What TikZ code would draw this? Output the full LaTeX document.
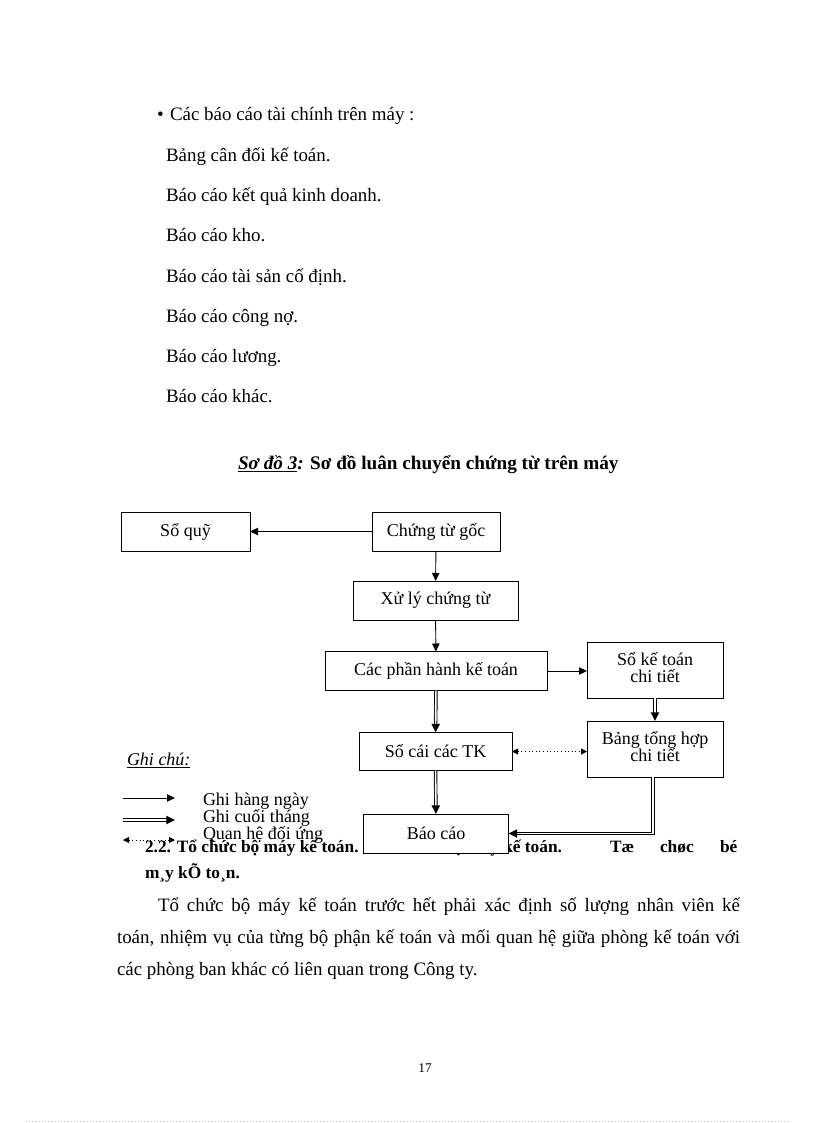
\documentclass[tikz,border=0pt]{standalone}
\usepackage{fontspec}
\setmainfont{Liberation Serif}
\usetikzlibrary{arrows.meta, decorations.markings}
\newcommand{\px}{0.75pt}
\tikzset{
every node/.style={inner sep=0pt, outer sep=0pt},
body/.style={anchor=base west, font=\fontsize{14.2}{16}\selectfont},
head/.style={anchor=base west, font=\fontsize{13}{15}\selectfont\bfseries},
legend/.style={anchor=base west, font=\fontsize{13.5}{15}\selectfont},
box/.style={draw, fill=white, line width=0.75pt, align=center,
  minimum height=39*\px, font=\fontsize{13.5}{12.75}\selectfont},
daily/.style={-{Triangle[length=6pt,width=5.5pt]}, line width=0.7pt},
monthly/.style={double, double distance=1.2pt, line width=0.7pt, shorten >=5pt,
  postaction={decorate, decoration={markings,
    mark=at position 1 with {\arrow{Triangle[length=6.5pt,width=6pt]}}}}},
mutual/.style={{Triangle[length=4.5pt,width=4.5pt]}-{Triangle[length=4.5pt,width=4.5pt]}, dotted, line width=0.7pt}
}

\begin{document}
\begin{tikzpicture}[x=\px, y=-\px]
\useasboundingbox (0,0) rectangle (816,1123);
% list of reports
\node[body] (bullet) at (157,121) {•};
\node[body] (title) at (170,121) {Các báo cáo tài chính trên máy :};
\node[body] (item1) at (166,162) {Bảng cân đối kế toán.};
\node[body] (item2) at (166,202) {Báo cáo kết quả kinh doanh.};
\node[body] (item3) at (166,242) {Báo cáo kho.};
\node[body] (item4) at (166,282) {Báo cáo tài sản cố định.};
\node[body] (item5) at (166,322) {Báo cáo công nợ.};
\node[body] (item6) at (166,362) {Báo cáo lương.};
\node[body] (item7) at (166,402) {Báo cáo khác.};
\node[body, font=\fontsize{14.4}{16}\selectfont\bfseries] (caption) at (238,469)
  {\underline{\textit{Sơ đồ 3}}\textit{:} Sơ đồ luân chuyển chứng từ trên máy};

% heading under the chart
\node[head] (h1) at (145,852) {2.2. Tổ chức bộ máy kế toán.};
\node[head, anchor=base east] (h2) at (562,852) {Tổ chức bộ máy kế toán.};
\node[head] (h3) at (610,852) {Tæ};
\node[head] (h4) at (660,852) {chøc};
\node[head] (h5) at (720,852) {bé};
\node[head] (h6) at (145,878) {m¸y kÕ to¸n.};

% paragraph
\node[body] (para1) at (117,911) {\makebox[467.25pt][s]{\hspace*{30.75pt}Tổ chức bộ máy kế toán trước hết phải xác định số lượng nhân viên kế}};
\node[body] (para2) at (117,943) {\makebox[467.25pt][s]{toán, nhiệm vụ của từng bộ phận kế toán và mối quan hệ giữa phòng kế toán với}};
\node[body] (para3) at (117,975) {các phòng ban khác có liên quan trong Công ty.};
\node[anchor=base, font=\fontsize{10}{12}\selectfont] (pageno) at (425,1072) {17};
\draw[gray!50, dotted] (26,1121) -- (790,1121);

% legend
\node[legend] (ghichu) at (127,765) {\underline{\textit{Ghi chú:}}};
\coordinate (l1a) at (123,798);
\coordinate (l1b) at (175,798);
\coordinate (l2a) at (123,820);
\coordinate (l2b) at (175,820);
\coordinate (l3a) at (123,840);
\coordinate (l3b) at (175,840);
\draw[daily] (l1a) -- (l1b);
\draw[monthly] (l2a) -- (l2b);
\draw[mutual] (l3a) -- (l3b);
\node[legend] (lab1) at (203,805) {Ghi hàng ngày};
\node[legend] (lab2) at (203,822) {Ghi cuối tháng};
\node[legend] (lab3) at (203,839) {Quan hệ đối ứng};

% chart
\node[box, minimum width=129*\px] (soquy) at (185.5,531.5) {Sổ quỹ};
\node[box, minimum width=128*\px] (goc) at (436,531.5) {Chứng từ gốc};
\node[box, minimum width=165*\px] (xuly) at (435.5,600.5) {Xử lý chứng từ};
\node[box, minimum width=222*\px] (phanhanh) at (436,671) {Các phần hành kế toán};
\node[box, minimum width=136*\px, minimum height=56*\px] (sochitiet) at (655,670) {Sổ kế toán\\chi tiết\rule[-4pt]{0pt}{8pt}};
\node[box, minimum width=153*\px, minimum height=38*\px] (socai) at (435.5,751.5) {Sổ cái các TK};
\node[box, minimum width=136*\px, minimum height=56*\px] (bangth) at (655,749) {Bảng tổng hợp\\chi tiết\rule[-4pt]{0pt}{8pt}};
\node[box, minimum width=145*\px] (baocao) at (436,833.5) {Báo cáo};

\draw[daily] (goc) -- (soquy);
\draw[daily] (goc) -- (xuly);
\draw[daily] (xuly) -- (phanhanh);
\draw[daily] (phanhanh.east) -- (phanhanh.east -| sochitiet.west);
\draw[monthly] (phanhanh) -- (socai);
\draw[monthly] (sochitiet) -- (bangth);
\draw[monthly] (socai) -- (baocao);
\draw[monthly] (bangth.south -| 653,0) |- (baocao.east);
\draw[mutual] (socai.east) -- (socai.east -| bangth.west);
\end{tikzpicture}
\end{document}
